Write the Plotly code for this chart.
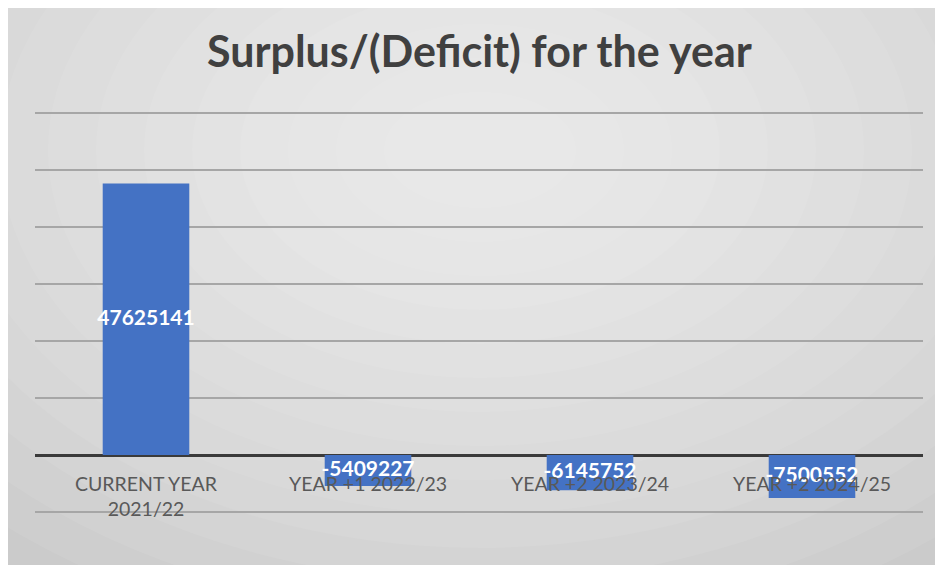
import plotly.graph_objects as go

categories = ["CURRENT YEAR<br>2021/22", "YEAR +1 2022/23", "YEAR +2 2023/24", "YEAR +2 2024/25"]
values = [47625141, -5409227, -6145752, -7500552]
labels = ["47625141", "-5409227", "-6145752", "-7500552"]
grid_values = [-10000000, 0, 10000000, 20000000, 30000000, 40000000, 50000000, 60000000]
title_text = "Surplus/(Deficit) for the year"

W, H = 943, 565
OFF = 8  # page body margin offset
ML, MT = 35 - OFF, 110 - OFF
PW, PH = 888, 405
MR, MB = W - ML - PW, H - MT - PH

def px_x(p):
    return (p - OFF - ML) / PW

def px_y(p):
    return (MT + PH - (p - OFF)) / PH

xs = list(range(len(categories)))

fig = go.Figure()
fig.add_trace(go.Bar(x=xs, y=values, marker=dict(color="#4472C4", line=dict(width=0)),
                     width=0.39, hoverinfo="skip", showlegend=False))
fig.add_trace(go.Scatter(x=xs, y=[v / 2 for v in values], text=labels, mode="text",
                         textfont=dict(family="Lato", size=21, color="white", weight="bold"),
                         textposition="middle center", hoverinfo="skip", showlegend=False))

shapes = []
shapes.append(dict(type="rect", xref="paper", yref="paper", layer="below",
                   x0=px_x(OFF), x1=px_x(W + 20), y0=px_y(H + 20), y1=px_y(OFF),
                   fillcolor="#cbcbcb", line=dict(width=0)))
cx, cy = 480, 150
n = 14
for i in range(n):
    rx = 720 - i * 48
    ry = 500 - i * 34
    shapes.append(dict(type="circle", xref="paper", yref="paper", layer="below",
                       x0=px_x(cx - rx), x1=px_x(cx + rx), y0=px_y(cy + ry), y1=px_y(cy - ry),
                       fillcolor="rgba(255,255,255,0.07)", line=dict(width=0)))

annotations = []
for i, c in enumerate(categories):
    annotations.append(dict(x=i, y=0, xref="x", yref="y", text=c, showarrow=False,
                            yanchor="top", yshift=-15,
                            font=dict(family="Lato", size=19.5, color="#595959")))
annotations.append(dict(x=px_x(479), y=px_y(51), xref="paper", yref="paper", text=title_text,
                        showarrow=False, xanchor="center", yanchor="middle",
                        font=dict(family="Lato", size=43, color="#404040", weight="bold")))

fig.update_layout(
    width=W, height=H,
    margin=dict(l=ML, r=MR, t=MT, b=MB),
    paper_bgcolor="white",
    plot_bgcolor="rgba(0,0,0,0)",
    shapes=shapes,
    annotations=annotations,
    xaxis=dict(range=[-0.5, 3.5], showticklabels=False, showgrid=False, zeroline=False,
               showline=False, ticks=""),
    yaxis=dict(range=[-10500000, 60500000], tickvals=grid_values, showticklabels=False,
               showgrid=True, gridcolor="#a6a6a6", gridwidth=1.5,
               zeroline=True, zerolinecolor="#3a3a3a", zerolinewidth=3,
               showline=False, ticks=""),
)

fig.write_html("out.html")
